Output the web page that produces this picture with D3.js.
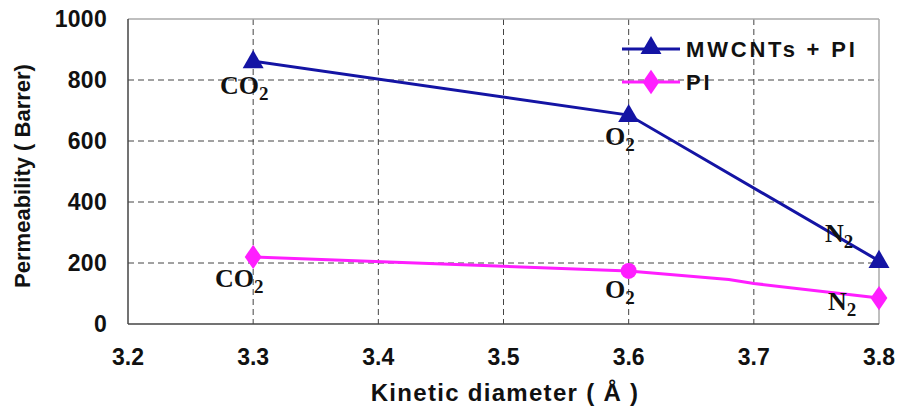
<!DOCTYPE html>
<html>
<head>
<meta charset="utf-8">
<script src="https://cdn.jsdelivr.net/npm/d3@7"></script>
<style>
	body { margin: 0; background: #fff; }
	text { font-family: "Liberation Sans", Arial, sans-serif; font-weight: bold; fill: #111; }
	.gas { font-family: "Liberation Serif", "Times New Roman", serif; }
</style>
</head>
<body>
<div id="graphicContainer"></div>
<script>

var diameters = [3.3, 3.6, 3.8]
var gases = ["CO", "O", "N"]
var mwcntValues = [862, 685, 207]
var piValues = [220, 174, 85]
// the PI line bends a little between O2 and N2
var piLineX = [3.3, 3.6, 3.68, 3.7, 3.8]
var piLineY = [220, 174, 146, 133, 85]
var xTicks = [3.2, 3.3, 3.4, 3.5, 3.6, 3.7, 3.8]
var yTicks = [0, 200, 400, 600, 800, 1000]
var seriesNames = ["MWCNTs + PI", "PI"]

var width = 901
var height = 410
var margin = {top: 19, right: 22, bottom: 86, left: 128}

var svg = d3.select("#graphicContainer").append("svg")
	.attr("width", width)
	.attr("height", height)

var x = d3.scaleLinear()
	.domain([3.2, 3.8])
	.range([margin.left, width - margin.right])

var y = d3.scaleLinear()
	.domain([0, 1000])
	.range([height - margin.bottom, margin.top])

var blue = "#1414a4"
var pink = "#ff1eff"

// grid
svg.append("g")
	.selectAll("line")
	.data(xTicks.slice(1, -1))
	.enter()
	.append("line")
	.attr("x1", d => x(d)).attr("x2", d => x(d))
	.attr("y1", y(1000)).attr("y2", y(0))
	.attr("stroke", "#444")
	.attr("stroke-dasharray", "6,4")

svg.append("g")
	.selectAll("line")
	.data(yTicks.slice(1, -1))
	.enter()
	.append("line")
	.attr("y1", d => y(d)).attr("y2", d => y(d))
	.attr("x1", x(3.2)).attr("x2", x(3.8))
	.attr("stroke", "#444")
	.attr("stroke-dasharray", "6,4")

// frame
svg.append("line")
	.attr("x1", x(3.2)).attr("x2", x(3.8)).attr("y1", y(1000)).attr("y2", y(1000))
	.attr("stroke", "#aaa").attr("stroke-width", 1.5)
svg.append("line")
	.attr("x1", x(3.8)).attr("x2", x(3.8)).attr("y1", y(1000)).attr("y2", y(0))
	.attr("stroke", "#aaa").attr("stroke-width", 1.5)
svg.append("line")
	.attr("x1", x(3.2)).attr("x2", x(3.2)).attr("y1", y(1000)).attr("y2", y(0))
	.attr("stroke", "#444").attr("stroke-width", 1.5)
svg.append("line")
	.attr("x1", x(3.2)).attr("x2", x(3.8)).attr("y1", y(0)).attr("y2", y(0))
	.attr("stroke", "#444").attr("stroke-width", 1.5)

// tick labels
svg.append("g")
	.selectAll("text")
	.data(yTicks)
	.enter()
	.append("text")
	.attr("x", 107)
	.attr("y", d => y(d))
	.attr("dy", "0.36em")
	.attr("text-anchor", "end")
	.style("font-size", "23px")
	.style("letter-spacing", "0.3px")
	.text(d => d)

svg.append("g")
	.selectAll("text")
	.data(xTicks)
	.enter()
	.append("text")
	.attr("x", d => x(d))
	.attr("y", 365)
	.attr("text-anchor", "middle")
	.style("font-size", "23px")
	.text(d => d.toFixed(1))

// axis titles
svg.append("text")
	.attr("transform", "translate(30,176) rotate(-90)")
	.attr("text-anchor", "middle")
	.style("font-size", "22px")
	.text("Permeability ( Barrer)")

svg.append("text")
	.attr("x", 505)
	.attr("y", 401)
	.attr("text-anchor", "middle")
	.style("font-size", "24px")
	.style("letter-spacing", "1.3px")
	.text("Kinetic diameter ( Å )")

// lines
var line = d3.line().x(d => x(d[0])).y(d => y(d[1]))

svg.append("path")
	.datum(d3.zip(piLineX, piLineY))
	.attr("d", line)
	.attr("fill", "none")
	.attr("stroke", pink)
	.attr("stroke-width", 3)

svg.append("path")
	.datum(d3.zip(diameters, mwcntValues))
	.attr("d", line)
	.attr("fill", "none")
	.attr("stroke", blue)
	.attr("stroke-width", 3)

var tri = d3.symbol().type(d3.symbolTriangle).size(190)
var dia = d3.symbol().type(d3.symbolDiamond).size(170)
var circ = d3.symbol().type(d3.symbolCircle).size(200)

svg.append("g")
	.selectAll("path")
	.data(d3.zip(diameters, mwcntValues))
	.enter()
	.append("path")
	.attr("d", tri)
	.attr("transform", d => "translate(" + x(d[0]) + "," + (y(d[1]) + 1) + ")")
	.attr("fill", blue)

svg.append("g")
	.selectAll("path")
	.data(d3.zip(diameters, piValues))
	.enter()
	.append("path")
	.attr("d", (d, i) => i == 1 ? circ() : dia())
	.attr("transform", (d, i) => "translate(" + x(d[0]) + "," + y(d[1]) + ")" + (i == 1 ? "" : " scale(1.2,1)"))
	.attr("fill", pink)

// gas labels
var mwLabelPos = [[220, 94], [605, 145], [825, 242]]
var piLabelPos = [[215, 287], [605, 298], [828, 310]]

function gasLabel(pos, i) {
	var t = svg.append("text")
		.attr("class", "gas")
		.attr("x", pos[0])
		.attr("y", pos[1])
		.style("font-size", "26px")
	t.append("tspan").text(gases[i])
	t.append("tspan").attr("dy", 6).style("font-size", "19px").text("2")
}
mwLabelPos.forEach(gasLabel)
piLabelPos.forEach(gasLabel)

// legend
var legend = svg.append("g")
var legendY = [49, 82]
legendY.forEach(function(ly, i) {
	legend.append("line")
		.attr("x1", 622).attr("x2", 680)
		.attr("y1", ly).attr("y2", ly)
		.attr("stroke", i == 0 ? blue : pink)
		.attr("stroke-width", 3)
	legend.append("path")
		.attr("d", i == 0 ? tri() : dia())
		.attr("transform", "translate(651," + (ly + (i == 0 ? -1 : 0)) + ")" + (i == 1 ? " scale(1.2,1)" : ""))
		.attr("fill", i == 0 ? blue : pink)
	legend.append("text")
		.attr("x", 686)
		.attr("y", ly + 8)
		.style("font-size", "22px")
		.style("letter-spacing", "2.8px")
		.text(seriesNames[i])
})

</script>
</body>
</html>
